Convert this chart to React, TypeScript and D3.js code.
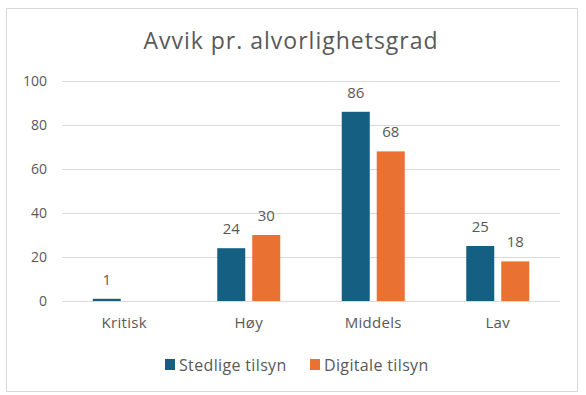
import * as d3 from "d3";

const categories = ["Kritisk", "Høy", "Middels", "Lav"];
const seriesNames = ["Stedlige tilsyn", "Digitale tilsyn"];
const stedlige: (number | null)[] = [1, 24, 86, 25];
const digitale: (number | null)[] = [null, 30, 68, 18];
const yTicks = [0, 20, 40, 60, 80, 100];
const colors = ["#156082", "#E97132"];

const FONT = "'Open Sans', 'Noto Sans', sans-serif";
const TEXT = "#595959";

export default function App() {
  const width = 586;
  const height = 395;
  const marginLeft = 62;
  const marginRight = 26;
  const marginTop = 81;
  const plotBottom = 301;

  const y = d3.scaleLinear([0, 100], [plotBottom, marginTop]);
  const x0 = d3
    .scaleBand(categories, [marginLeft, width - marginRight])
    .paddingInner(0.494)
    .paddingOuter(0.247);
  const x1 = d3.scaleBand(seriesNames, [0, x0.bandwidth()]).paddingInner(0.2);

  const values = [stedlige, digitale];

  return (
    <svg
      width={width}
      height={height}
      style={{ position: "absolute", left: 0, top: 0, background: "white" }}
      fontFamily={FONT}
    >
      <rect x={6.5} y={8.5} width={571} height={383} fill="white" stroke="#d9d9d9" />
      <text
        x={291}
        y={49}
        textAnchor="middle"
        fontSize={23}
        letterSpacing={1}
        fill={TEXT}
      >
        Avvik pr. alvorlighetsgrad
      </text>

      {yTicks.map((t) => (
        <g key={t}>
          <line
            x1={marginLeft}
            x2={width - marginRight}
            y1={Math.round(y(t)) + 0.5}
            y2={Math.round(y(t)) + 0.5}
            stroke="#d9d9d9"
          />
          <text x={47} y={y(t) + 5} textAnchor="end" fontSize={14} fill={TEXT}>
            {t}
          </text>
        </g>
      ))}

      {categories.map((c, i) => (
        <g key={c}>
          {values.map((vals, s) => {
            const v = vals[i];
            if (v === null) return null;
            const bx = (x0(c) ?? 0) + (x1(seriesNames[s]) ?? 0);
            return (
              <g key={s}>
                <rect
                  x={bx}
                  y={y(v)}
                  width={x1.bandwidth()}
                  height={plotBottom - y(v)}
                  fill={colors[s]}
                />
                <text
                  x={bx + x1.bandwidth() / 2}
                  y={y(v) - 14}
                  textAnchor="middle"
                  fontSize={15}
                  fill={TEXT}
                >
                  {v}
                </text>
              </g>
            );
          })}
          <text
            x={(x0(c) ?? 0) + x0.bandwidth() / 2}
            y={328}
            textAnchor="middle"
            fontSize={15}
            letterSpacing={0.3}
            fill={TEXT}
          >
            {c}
          </text>
        </g>
      ))}

      {seriesNames.map((name, s) => {
        const lx = [165, 310][s];
        return (
          <g key={name}>
            <rect x={lx} y={359} width={10} height={11} fill={colors[s]} />
            <text x={lx + 14} y={370.5} fontSize={16} letterSpacing={0.35} fill={TEXT}>
              {name}
            </text>
          </g>
        );
      })}
    </svg>
  );
}
